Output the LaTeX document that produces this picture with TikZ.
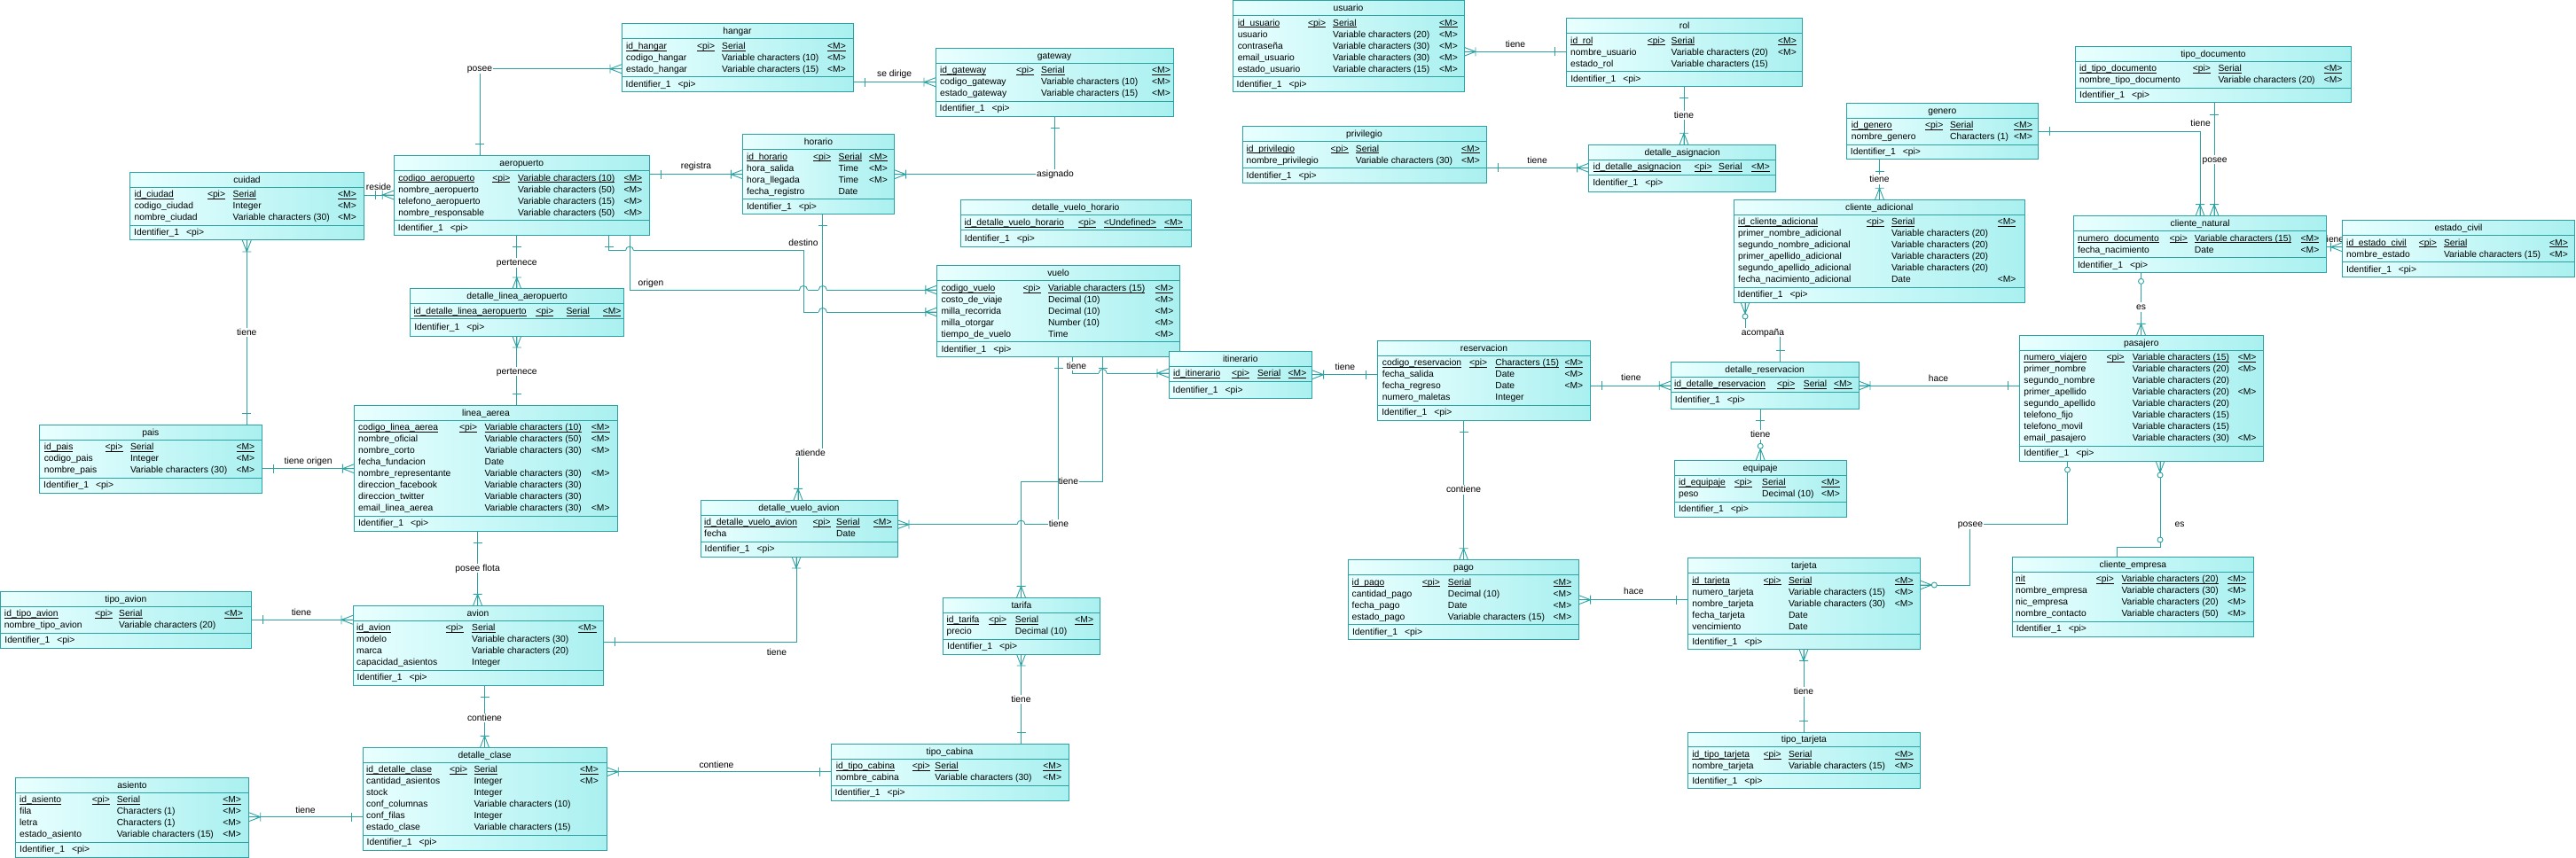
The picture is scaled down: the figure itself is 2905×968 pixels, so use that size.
\documentclass[tikz,border=0pt]{standalone}
\usepackage{fontspec}
\setmainfont{Liberation Sans}
\usetikzlibrary{calc}
\pgfdeclarelayer{bg}
\pgfsetlayers{bg,main}
\definecolor{ln}{HTML}{2CA2A2}
\definecolor{fl}{HTML}{E9FFFF}
\definecolor{fr}{HTML}{AAF0F0}
\newcommand\fs{\fontsize{10.3}{12}\selectfont}
\newsavebox\ulbox
\newcommand\ul[1]{\sbox\ulbox{#1}\rlap{\rule[-1.7pt]{\wd\ulbox}{0.55pt}}\usebox\ulbox}
\tikzset{
 ebox/.style={draw=ln,line width=1pt,left color=fl,right color=fr,inner sep=0pt,outer sep=0pt},
 eline/.style={draw=ln,line width=0.9pt},
 txt/.style={anchor=west,inner sep=0pt,font=\fs,text height=7.5pt,text depth=1pt},
 lbl/.style={anchor=center,inner sep=1.2pt,font=\fs,fill=white,text height=7.5pt,text depth=1pt},
 lblh/.style={lbl,fill=none},
 rel/.style={draw=ln,line width=0.9pt},
 mone/.pic={\draw[rel] (13,-5)--(13,5);},
 mmany/.pic={\draw[rel] (0,-5)--(13,0)--(0,5) (0,0)--(13,0) (13,-5)--(13,5);},
 mzmany/.pic={\draw[rel] (0,-5)--(13,0)--(0,5) (0,0)--(16,0); \draw[rel,fill=white] (16,0) circle (3);},
 mzone/.pic={\draw[rel,fill=white] (10,0) circle (3);}
}
\newcommand\mk[3]{\path #1 pic[rotate=#2]{#3};}
\newcommand\hop[2]{\fill[white] (#1-4.5,#2-1.6) rectangle (#1+4.5,#2+1.6);
 \draw[rel] (#1,#2-2.5)--(#1,#2+2.5);
 \draw[rel] (#1-4.5,#2) .. controls (#1-4.5,#2-6) and (#1+4.5,#2-6) .. (#1+4.5,#2);}
\newcommand\ent[6]{%
 \pgfmathsetmacro\eW{#4-#2}%
 \pgfmathsetmacro\eH{37.7+13*#6+(#6==1)*2.3}%
 \pgfmathsetmacro\eM{(#2+#4)/2}%
 \pgfmathsetmacro\eS{#3+16.7}%
 \pgfmathsetmacro\eI{#3+20.7+13*#6}%
 \pgfmathsetmacro\eB{#3+\eH}%
 \pgfmathsetmacro\eC{(\eI+\eB)/2}%
 \xdef\eT{#3}%
 \node[ebox,minimum width=\eW pt,minimum height=\eH pt,anchor=north west] (#1) at (#2,#3) {};
 \draw[eline] (#2,\eS) -- (#4,\eS) (#2,\eI) -- (#4,\eI);
 \node[txt,anchor=center] at (\eM,#3+8.6) {#5};
 \node[txt] at (#2+4.5,\eC) {Identifier\_1\hspace{8pt}<pi>};
}
\newcommand\cols[4]{\def\cA{#1}\def\cB{#2}\def\cC{#3}\def\cD{#4}}
\newcommand\pkr[3]{\pgfmathsetmacro\yy{\eT+12.2+13*#1}%
 \node[txt] at (\cA,\yy) {\ul{#2}};
 \node[txt] at (\cB,\yy) {\ul{<pi>}};
 \node[txt] at (\cC,\yy) {\ul{#3}};
 \node[txt] at (\cD,\yy) {\ul{<M>}};}
\newcommand\atr[4]{\pgfmathsetmacro\yy{\eT+12.2+13*#1}%
 \node[txt] at (\cA,\yy) {#2};
 \node[txt] at (\cC,\yy) {#3};
 \node[txt] at (\cD,\yy) {#4};}
\begin{document}
\begin{tikzpicture}[x=1pt,y=-1pt]
\begin{pgfonlayer}{bg}\fill[white] (0,0) rectangle (2905,968);\end{pgfonlayer}
\useasboundingbox (0,0) rectangle (2905,968);

\ent{hangar}{701}{27}{962}{hangar}{3}\cols{706}{786}{814}{933}
\pkr{1}{id\_hangar}{Serial}
\atr{2}{codigo\_hangar}{Variable characters (10)}{<M>}
\atr{3}{estado\_hangar}{Variable characters (15)}{<M>}

\ent{gateway}{1055}{54.5}{1323}{gateway}{3}\cols{1060}{1146}{1174}{1299}
\pkr{1}{id\_gateway}{Serial}
\atr{2}{codigo\_gateway}{Variable characters (10)}{<M>}
\atr{3}{estado\_gateway}{Variable characters (15)}{<M>}

\ent{usuario}{1390}{0.7}{1651}{usuario}{5}\cols{1395.6}{1475}{1503}{1623}
\pkr{1}{id\_usuario}{Serial}
\atr{2}{usuario}{Variable characters (20)}{<M>}
\atr{3}{contraseña}{Variable characters (30)}{<M>}
\atr{4}{email\_usuario}{Variable characters (30)}{<M>}
\atr{5}{estado\_usuario}{Variable characters (15)}{<M>}

\ent{rol}{1766.6}{20.7}{2032.7}{rol}{3}\cols{1771}{1857.7}{1884.5}{2005}
\pkr{1}{id\_rol}{Serial}
\atr{2}{nombre\_usuario}{Variable characters (20)}{<M>}
\atr{3}{estado\_rol}{Variable characters (15)}{}

\ent{privilegio}{1401}{142.7}{1676}{privilegio}{2}\cols{1405.4}{1500.5}{1528.7}{1648}
\pkr{1}{id\_privilegio}{Serial}
\atr{2}{nombre\_privilegio}{Variable characters (30)}{<M>}

\ent{dasig}{1791.6}{163.3}{2002.8}{detalle\_asignacion}{1}\cols{1796.5}{1910.4}{1938}{1975}
\pkr{1}{id\_detalle\_asignacion}{Serial}

\ent{tdoc}{2340.5}{52.3}{2651.5}{tipo\_documento}{2}\cols{2344.8}{2472.6}{2501.3}{2620.6}
\pkr{1}{id\_tipo\_documento}{Serial}
\atr{2}{nombre\_tipo\_documento}{Variable characters (20)}{<M>}

\ent{genero}{2082.2}{116.3}{2298.4}{genero}{2}\cols{2087.6}{2171}{2198.9}{2271}
\pkr{1}{id\_genero}{Serial}
\atr{2}{nombre\_genero}{Characters (1)}{<M>}

\ent{cadic}{1955}{225.3}{2283.5}{cliente\_adicional}{6}\cols{1960}{2104.6}{2132.8}{2252.6}
\pkr{1}{id\_cliente\_adicional}{Serial}
\atr{2}{primer\_nombre\_adicional}{Variable characters (20)}{}
\atr{3}{segundo\_nombre\_adicional}{Variable characters (20)}{}
\atr{4}{primer\_apellido\_adicional}{Variable characters (20)}{}
\atr{5}{segundo\_apellido\_adicional}{Variable characters (20)}{}
\atr{6}{fecha\_nacimiento\_adicional}{Date}{<M>}

\ent{cnatural}{2338.4}{243.7}{2623.8}{cliente\_natural}{2}\cols{2343}{2446.5}{2474.7}{2594.5}
\pkr{1}{numero\_documento}{Variable characters (15)}
\atr{2}{fecha\_nacimiento}{Date}{<M>}

\ent{ecivil}{2641.3}{248.7}{2903.9}{estado\_civil}{2}\cols{2646}{2727.6}{2755.8}{2875}
\pkr{1}{id\_estado\_civil}{Serial}
\atr{2}{nombre\_estado}{Variable characters (15)}{<M>}

\ent{horario}{837.3}{151.7}{1008.6}{horario}{4}\cols{842}{917}{945.5}{980}
\pkr{1}{id\_horario}{Serial}
\atr{2}{hora\_salida}{Time}{<M>}
\atr{3}{hora\_llegada}{Time}{<M>}
\atr{4}{fecha\_registro}{Date}{}

\ent{cuidad}{146.5}{194.3}{410.6}{cuidad}{3}\cols{151.5}{233.8}{262.5}{381}
\pkr{1}{id\_ciudad}{Serial}
\atr{2}{codigo\_ciudad}{Integer}{<M>}
\atr{3}{nombre\_ciudad}{Variable characters (30)}{<M>}

\ent{aeropuerto}{444.2}{175.7}{732.4}{aeropuerto}{4}\cols{449.2}{555.2}{584}{703.3}
\pkr{1}{codigo\_aeropuerto}{Variable characters (10)}
\atr{2}{nombre\_aeropuerto}{Variable characters (50)}{<M>}
\atr{3}{telefono\_aeropuerto}{Variable characters (15)}{<M>}
\atr{4}{nombre\_responsable}{Variable characters (50)}{<M>}

\ent{dvh}{1083.2}{226}{1343}{detalle\_vuelo\_horario}{1}\cols{1087.5}{1216}{1244.6}{1313}
\pkr{1}{id\_detalle\_vuelo\_horario}{<Undefined>}

\ent{dla}{462.6}{326}{703.7}{detalle\_linea\_aeropuerto}{1}\cols{466.4}{604.2}{638.3}{679.6}
\pkr{1}{id\_detalle\_linea\_aeropuerto}{Serial}

\ent{vuelo}{1056.8}{300}{1330.4}{vuelo}{5}\cols{1061.4}{1153.5}{1182}{1302.5}
\pkr{1}{codigo\_vuelo}{Variable characters (15)}
\atr{2}{costo\_de\_viaje}{Decimal (10)}{<M>}
\atr{3}{milla\_recorrida}{Decimal (10)}{<M>}
\atr{4}{milla\_otorgar}{Number (10)}{<M>}
\atr{5}{tiempo\_de\_vuelo}{Time}{<M>}

\ent{itin}{1318}{396.5}{1479.6}{itinerario}{1}\cols{1322.9}{1389}{1417.9}{1452.5}
\pkr{1}{id\_itinerario}{Serial}

\ent{reserv}{1553.6}{384.3}{1793.4}{reservacion}{4}\cols{1558.7}{1657}{1686.2}{1764.3}
\pkr{1}{codigo\_reservacion}{Characters (15)}
\atr{2}{fecha\_salida}{Date}{<M>}
\atr{3}{fecha\_regreso}{Date}{<M>}
\atr{4}{numero\_maletas}{Integer}{}

\ent{dreserv}{1884.2}{408.3}{2096}{detalle\_reservacion}{1}\cols{1887.8}{2004}{2033.7}{2067.9}
\pkr{1}{id\_detalle\_reservacion}{Serial}

\ent{pasajero}{2277.6}{378.3}{2552}{pasajero}{8}\cols{2282.2}{2375.3}{2404.6}{2523.6}
\pkr{1}{numero\_viajero}{Variable characters (15)}
\atr{2}{primer\_nombre}{Variable characters (20)}{<M>}
\atr{3}{segundo\_nombre}{Variable characters (20)}{}
\atr{4}{primer\_apellido}{Variable characters (20)}{<M>}
\atr{5}{segundo\_apellido}{Variable characters (20)}{}
\atr{6}{telefono\_fijo}{Variable characters (15)}{}
\atr{7}{telefono\_movil}{Variable characters (15)}{}
\atr{8}{email\_pasajero}{Variable characters (30)}{<M>}

\ent{pais}{44.5}{479.3}{295.2}{pais}{3}\cols{49.6}{118.5}{146.9}{266.3}
\pkr{1}{id\_pais}{Serial}
\atr{2}{codigo\_pais}{Integer}{<M>}
\atr{3}{nombre\_pais}{Variable characters (30)}{<M>}

\ent{linea}{399.4}{457.3}{696.5}{linea\_aerea}{8}\cols{404}{517.9}{546.4}{666.7}
\pkr{1}{codigo\_linea\_aerea}{Variable characters (10)}
\atr{2}{nombre\_oficial}{Variable characters (50)}{<M>}
\atr{3}{nombre\_corto}{Variable characters (30)}{<M>}
\atr{4}{fecha\_fundacion}{Date}{}
\atr{5}{nombre\_representante}{Variable characters (30)}{<M>}
\atr{6}{direccion\_facebook}{Variable characters (30)}{}
\atr{7}{direccion\_twitter}{Variable characters (30)}{}
\atr{8}{email\_linea\_aerea}{Variable characters (30)}{<M>}

\ent{equipaje}{1888.3}{519.3}{2082}{equipaje}{2}\cols{1892.9}{1955.6}{1987}{2054}
\pkr{1}{id\_equipaje}{Serial}
\atr{2}{peso}{Decimal (10)}{<M>}

\ent{dva}{790}{564.3}{1012}{detalle\_vuelo\_avion}{2}\cols{794}{916.4}{943}{984.7}
\pkr{1}{id\_detalle\_vuelo\_avion}{Serial}
\atr{2}{fecha}{Date}{}

\ent{tavion}{0.7}{667.3}{283}{tipo\_avion}{2}\cols{4.8}{107}{134}{253}
\pkr{1}{id\_tipo\_avion}{Serial}
\atr{2}{nombre\_tipo\_avion}{Variable characters (20)}{}

\ent{avion}{398}{683.3}{680}{avion}{4}\cols{402}{502.4}{532}{652}
\pkr{1}{id\_avion}{Serial}
\atr{2}{modelo}{Variable characters (30)}{}
\atr{3}{marca}{Variable characters (20)}{}
\atr{4}{capacidad\_asientos}{Integer}{}

\ent{pago}{1520.4}{631.7}{1780.6}{pago}{4}\cols{1524.5}{1603.6}{1632.7}{1751.5}
\pkr{1}{id\_pago}{Serial}
\atr{2}{cantidad\_pago}{Decimal (10)}{<M>}
\atr{3}{fecha\_pago}{Date}{<M>}
\atr{4}{estado\_pago}{Variable characters (15)}{<M>}

\ent{tarjeta}{1903.6}{629.7}{2165.3}{tarjeta}{5}\cols{1908.2}{1988.3}{2016.8}{2136.7}
\pkr{1}{id\_tarjeta}{Serial}
\atr{2}{numero\_tarjeta}{Variable characters (15)}{<M>}
\atr{3}{nombre\_tarjeta}{Variable characters (30)}{<M>}
\atr{4}{fecha\_tarjeta}{Date}{}
\atr{5}{vencimiento}{Date}{}

\ent{cempresa}{2269.2}{628.3}{2541.6}{cliente\_empresa}{4}\cols{2273}{2363.6}{2392.4}{2512}
\pkr{1}{nit}{Variable characters (20)}
\atr{2}{nombre\_empresa}{Variable characters (30)}{<M>}
\atr{3}{nic\_empresa}{Variable characters (20)}{<M>}
\atr{4}{nombre\_contacto}{Variable characters (50)}{<M>}

\ent{tarifa}{1063.5}{674.3}{1240.4}{tarifa}{2}\cols{1067.5}{1115}{1144.7}{1212.2}
\pkr{1}{id\_tarifa}{Serial}
\atr{2}{precio}{Decimal (10)}{}

\ent{dclase}{409}{843.3}{684.2}{detalle\_clase}{6}\cols{413}{507}{534.3}{654}
\pkr{1}{id\_detalle\_clase}{Serial}
\atr{2}{cantidad\_asientos}{Integer}{<M>}
\atr{3}{stock}{Integer}{}
\atr{4}{conf\_columnas}{Variable characters (10)}{}
\atr{5}{conf\_filas}{Integer}{}
\atr{6}{estado\_clase}{Variable characters (15)}{}

\ent{tcabina}{937}{839.3}{1205}{tipo\_cabina}{2}\cols{942.6}{1028.7}{1054.2}{1176.2}
\pkr{1}{id\_tipo\_cabina}{Serial}
\atr{2}{nombre\_cabina}{Variable characters (30)}{<M>}

\ent{ttarjeta}{1903.6}{826}{2165.3}{tipo\_tarjeta}{2}\cols{1908.2}{1988.3}{2016.8}{2136.7}
\pkr{1}{id\_tipo\_tarjeta}{Serial}
\atr{2}{nombre\_tarjeta}{Variable characters (15)}{<M>}

\ent{asiento}{17.5}{877.3}{280.7}{asiento}{4}\cols{22}{103.7}{131.6}{251.2}
\pkr{1}{id\_asiento}{Serial}
\atr{2}{fila}{Characters (1)}{<M>}
\atr{3}{letra}{Characters (1)}{<M>}
\atr{4}{estado\_asiento}{Variable characters (15)}{<M>}

\begin{pgfonlayer}{bg}
% hangar - gateway
\draw[rel] (hangar.east|-0,92.7) -- (gateway.west|-0,92.7);
\mk{(hangar.east|-0,92.7)}{0}{mone}
\mk{(gateway.west|-0,92.7)}{180}{mmany}
\node[lblh] at (1008.6,83.3) {se dirige};
% aeropuerto - hangar
\draw[rel] (aeropuerto.north-|541,0) -- (541,77.7) -- (hangar.west|-0,77.7);
\mk{(aeropuerto.north-|541,0)}{90}{mone}
\mk{(hangar.west|-0,77.7)}{180}{mmany}
\node[lbl] at (541,77.7) {posee};
% registra
\draw[rel] (aeropuerto.east|-0,196.7) -- (horario.west|-0,196.7);
\mk{(aeropuerto.east|-0,196.7)}{0}{mone}
\mk{(horario.west|-0,196.7)}{180}{mmany}
\node[lblh] at (785,187.7) {registra};
% asignado
\draw[rel] (gateway.south-|1189.6,0) -- (1189.6,196.7) -- (horario.east|-0,196.7);
\mk{(gateway.south-|1189.6,0)}{270}{mone}
\mk{(horario.east|-0,196.7)}{0}{mmany}
\node[lbl] at (1190,196.7) {asignado};
% reside
\draw[rel] (cuidad.east|-0,220) -- (aeropuerto.west|-0,220);
\mk{(cuidad.east|-0,220)}{0}{mone}
\mk{(aeropuerto.west|-0,220)}{180}{mmany}
\node[lblh] at (427,211) {reside};
% cuidad - pais
\draw[rel] (cuidad.south-|278.3,0) -- (pais.north-|278.3,0);
\mk{(cuidad.south-|278.3,0)}{270}{mmany}
\mk{(pais.north-|278.3,0)}{90}{mone}
\node[lbl] at (278.3,375) {tiene};
% pertenece
\draw[rel] (aeropuerto.south-|582.8,0) -- (dla.north-|582.8,0);
\mk{(aeropuerto.south-|582.8,0)}{270}{mone}
\mk{(dla.north-|582.8,0)}{90}{mmany}
\node[lbl] at (582.8,296.7) {pertenece};
\draw[rel] (dla.south-|582.8,0) -- (linea.north-|582.8,0);
\mk{(dla.south-|582.8,0)}{270}{mmany}
\mk{(linea.north-|582.8,0)}{90}{mone}
\node[lbl] at (582.8,419) {pertenece};
% tiene origen
\draw[rel] (pais.east|-0,528.7) -- (linea.west|-0,528.7);
\mk{(pais.east|-0,528.7)}{0}{mone}
\mk{(linea.west|-0,528.7)}{180}{mmany}
\node[lblh] at (347.6,520) {tiene origen};
% posee flota
\draw[rel] (linea.south-|538.6,0) -- (avion.north-|538.6,0);
\mk{(linea.south-|538.6,0)}{270}{mone}
\mk{(avion.north-|538.6,0)}{90}{mmany}
\node[lbl] at (538.6,641) {posee flota};
% tipo_avion - avion
\draw[rel] (tavion.east|-0,699.3) -- (avion.west|-0,699.3);
\mk{(tavion.east|-0,699.3)}{0}{mone}
\mk{(avion.west|-0,699.3)}{180}{mmany}
\node[lblh] at (340,691) {tiene};
% avion - dva
\draw[rel] (avion.east|-0,724) -- (898,724) -- (dva.south-|898,0);
\mk{(avion.east|-0,724)}{0}{mone}
\mk{(dva.south-|898,0)}{270}{mmany}
\node[lblh] at (876,736) {tiene};
% avion - detalle_clase
\draw[rel] (avion.south-|546.5,0) -- (dclase.north-|546.5,0);
\mk{(avion.south-|546.5,0)}{270}{mone}
\mk{(dclase.north-|546.5,0)}{90}{mmany}
\node[lbl] at (546.5,810) {contiene};
% asiento - detalle_clase
\draw[rel] (asiento.east|-0,921.7) -- (dclase.west|-0,921.7);
\mk{(asiento.east|-0,921.7)}{0}{mmany}
\mk{(dclase.west|-0,921.7)}{180}{mone}
\node[lblh] at (344.5,914) {tiene};
% detalle_clase - tipo_cabina
\draw[rel] (dclase.east|-0,870.7) -- (tcabina.west|-0,870.7);
\mk{(dclase.east|-0,870.7)}{0}{mmany}
\mk{(tcabina.west|-0,870.7)}{180}{mone}
\node[lblh] at (808,863.3) {contiene};
% tarifa - tipo_cabina
\draw[rel] (tarifa.south-|1151.5,0) -- (tcabina.north-|1151.5,0);
\mk{(tarifa.south-|1151.5,0)}{270}{mmany}
\mk{(tcabina.north-|1151.5,0)}{90}{mone}
\node[lbl] at (1151.5,789) {tiene};
% vuelo - tarifa
\draw[rel] (vuelo.south-|1243.6,0) -- (1243.6,543) -- (1151.5,543) -- (tarifa.north-|1151.5,0);
\mk{(vuelo.south-|1243.6,0)}{270}{mone}
\mk{(tarifa.north-|1151.5,0)}{90}{mmany}
\node[lbl] at (1205,543) {tiene};
% vuelo - dva
\draw[rel] (vuelo.south-|1193.6,0) -- (1193.6,591.7) -- (dva.east|-0,591.7);
\mk{(vuelo.south-|1193.6,0)}{270}{mone}
\mk{(dva.east|-0,591.7)}{0}{mmany}
\node[lbl] at (1194,591.7) {tiene};
% vuelo - itinerario
\draw[rel] (vuelo.south-|1209,0) -- (1209,421) -- (itin.west|-0,421);
\mk{(itin.west|-0,421)}{180}{mmany}
\node[lbl] at (1214,413) {tiene};
% itinerario - reservacion
\draw[rel] (itin.east|-0,422.7) -- (reserv.west|-0,422.7);
\mk{(itin.east|-0,422.7)}{0}{mmany}
\mk{(reserv.west|-0,422.7)}{180}{mone}
\node[lblh] at (1516.8,414.3) {tiene};
% reservacion - detalle_reservacion
\draw[rel] (reserv.east|-0,435) -- (dreserv.west|-0,435);
\mk{(reserv.east|-0,435)}{0}{mone}
\mk{(dreserv.west|-0,435)}{180}{mmany}
\node[lblh] at (1839.3,426) {tiene};
% reservacion - pago
\draw[rel] (reserv.south-|1650.5,0) -- (pago.north-|1650.5,0);
\mk{(reserv.south-|1650.5,0)}{270}{mone}
\mk{(pago.north-|1650.5,0)}{90}{mmany}
\node[lbl] at (1650.5,552.7) {contiene};
% pago - tarjeta
\draw[rel] (pago.east|-0,676.7) -- (tarjeta.west|-0,676.7);
\mk{(pago.east|-0,676.7)}{0}{mmany}
\mk{(tarjeta.west|-0,676.7)}{180}{mone}
\node[lblh] at (1842.3,667.7) {hace};
% tarjeta - tipo_tarjeta
\draw[rel] (tarjeta.south-|2034,0) -- (ttarjeta.north-|2034,0);
\mk{(tarjeta.south-|2034,0)}{270}{mmany}
\mk{(ttarjeta.north-|2034,0)}{90}{mone}
\node[lbl] at (2034,780.7) {tiene};
% detalle_reservacion - equipaje
\draw[rel] (dreserv.south-|1985.2,0) -- (equipaje.north-|1985.2,0);
\mk{(dreserv.south-|1985.2,0)}{270}{mone}
\mk{(equipaje.north-|1985.2,0)}{90}{mzmany}
\node[lbl] at (1985.2,490.7) {tiene};
% detalle_reservacion - pasajero
\draw[rel] (dreserv.east|-0,435) -- (pasajero.west|-0,435);
\mk{(dreserv.east|-0,435)}{0}{mmany}
\mk{(pasajero.west|-0,435)}{180}{mone}
\node[lblh] at (2186,427) {hace};
% cliente_adicional - detalle_reservacion
\draw[rel] (cadic.south-|1968,0) -- (1968,375) -- (2007.7,375) -- (dreserv.north-|2007.7,0);
\mk{(cadic.south-|1968,0)}{270}{mzmany}
\mk{(dreserv.north-|2007.7,0)}{90}{mone}
\node[lbl] at (1988,375) {acompaña};
% genero - cliente_adicional
\draw[rel] (genero.south-|2119.5,0) -- (cadic.north-|2119.5,0);
\mk{(genero.south-|2119.5,0)}{270}{mone}
\mk{(cadic.north-|2119.5,0)}{90}{mmany}
\node[lbl] at (2119.5,202.7) {tiene};
% genero - cliente_natural
\draw[rel] (genero.east|-0,148.3) -- (2481,148.3) -- (cnatural.north-|2481,0);
\mk{(genero.east|-0,148.3)}{0}{mone}
\mk{(cnatural.north-|2481,0)}{90}{mmany}
\node[lblh] at (2481.6,139.3) {tiene};
% tipo_documento - cliente_natural
\draw[rel] (tdoc.south-|2497,0) -- (cnatural.north-|2497,0);
\mk{(tdoc.south-|2497,0)}{270}{mone}
\mk{(cnatural.north-|2497,0)}{90}{mmany}
\node[lbl] at (2497.6,180) {posee};
% cliente_natural - estado_civil
\node[lblh] at (2632,270) {tiene};
\draw[rel] (cnatural.east|-0,278.7) -- (ecivil.west|-0,278.7);
\mk{(ecivil.west|-0,278.7)}{180}{mmany}
% usuario - rol
\draw[rel] (usuario.east|-0,58.3) -- (rol.west|-0,58.3);
\mk{(usuario.east|-0,58.3)}{0}{mmany}
\mk{(rol.west|-0,58.3)}{180}{mone}
\node[lblh] at (1709,50) {tiene};
% rol - detalle_asignacion
\draw[rel] (rol.south-|1899,0) -- (dasig.north-|1899,0);
\mk{(rol.south-|1899,0)}{270}{mone}
\mk{(dasig.north-|1899,0)}{90}{mmany}
\node[lbl] at (1899,130) {tiene};
% privilegio - detalle_asignacion
\draw[rel] (privilegio.east|-0,189.3) -- (dasig.west|-0,189.3);
\mk{(privilegio.east|-0,189.3)}{0}{mone}
\mk{(dasig.west|-0,189.3)}{180}{mmany}
\node[lblh] at (1733.6,181) {tiene};
% cliente_natural - pasajero
\draw[rel] (cnatural.south-|2414.5,0) -- (pasajero.north-|2414.5,0);
\mk{(cnatural.south-|2414.5,0)}{270}{mzone}
\mk{(pasajero.north-|2414.5,0)}{90}{mmany}
\node[lbl] at (2414.5,346.5) {es};
% pasajero - tarjeta
\draw[rel] (pasajero.south-|2331.5,0) -- (2331.5,591.7) -- (2221,591.7) -- (2221,660) -- (tarjeta.east|-0,660);
\mk{(pasajero.south-|2331.5,0)}{270}{mzone}
\mk{(tarjeta.east|-0,660)}{0}{mzmany}
\node[lbl] at (2222,591.7) {posee};
% pasajero - cliente_empresa
\coordinate (esk) at (2436,617);
\draw[rel] (pasajero.south-|2436,0) -- (esk) -- (2387,617) -- (cempresa.north-|2387,0);
\mk{(pasajero.south-|2436,0)}{270}{mzmany}
\draw[rel,fill=white] (2436,609) circle (3);
\node[lblh] at (2458,591) {es};
% origen
\draw[rel] (aeropuerto.south-|710,0) -- (710,327) -- (vuelo.west|-0,327);
\mk{(vuelo.west|-0,327)}{180}{mmany}
\node[lblh] at (734,319) {origen};
% destino
\draw[rel] (aeropuerto.south-|686.5,0) -- (686.5,282.7) -- (906,282.7) -- (906,352) -- (vuelo.west|-0,352);
\mk{(aeropuerto.south-|686.5,0)}{270}{mone}
\mk{(vuelo.west|-0,352)}{180}{mmany}
\node[lblh] at (906,274) {destino};
% atiende
\draw[rel] (horario.south-|927.8,0) -- (927.8,511) -- (900,511) -- (dva.north-|900,0);
\mk{(horario.south-|927.8,0)}{270}{mone}
\mk{(dva.north-|900,0)}{90}{mmany}
\node[lbl] at (914,511) {atiende};
% hops
\hop{710}{282.7}
\hop{906}{327}
\hop{927.8}{327}
\hop{927.8}{352}
\hop{1243.6}{421}
\hop{1151.5}{591.7}
\end{pgfonlayer}
\end{tikzpicture}
\end{document}
